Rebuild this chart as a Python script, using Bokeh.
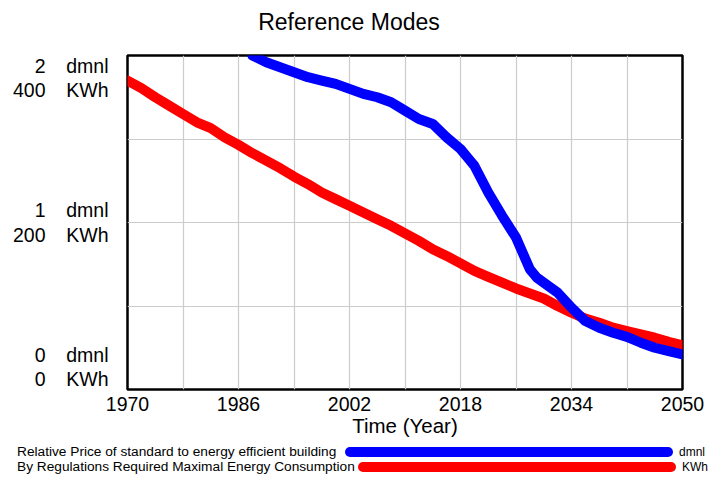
from bokeh.plotting import figure
from bokeh.models import Range1d, FixedTicker, LinearAxis, Div
from bokeh.layouts import column
from bokeh.embed import file_html
from bokeh.resources import INLINE

# ---------------- data ----------------
red_years = [1970, 1972, 1974, 1976, 1978, 1980, 1982, 1984, 1986, 1988, 1990,
             1992, 1994, 1996, 1998, 2000, 2002, 2004, 2006, 2008, 2010, 2012,
             2014, 2016, 2018, 2020, 2022, 2024, 2026, 2028, 2030, 2032, 2034,
             2036, 2038, 2040, 2042, 2044, 2046, 2048, 2050]
red_kwh = [370, 361, 350, 340, 330, 320, 313, 302, 293, 283, 274,
           265, 255, 246, 236, 228, 220, 212, 204, 196, 187, 178,
           168, 160, 151, 142, 135, 128, 121, 115, 109, 100, 92,
           85, 80, 74, 70, 66, 62, 57, 53]

blue_years = [1988, 1990, 1992, 1994, 1996, 1998, 2000, 2002, 2004, 2006, 2008,
              2010, 2012, 2014, 2016, 2018, 2019, 2020, 2022, 2024, 2026, 2028,
              2029, 2030, 2032, 2034, 2036, 2038, 2040, 2042, 2044, 2046, 2048, 2050]
blue_dmnl = [2.00, 1.96, 1.93, 1.90, 1.87, 1.85, 1.83, 1.80, 1.77, 1.75, 1.72,
             1.67, 1.62, 1.59, 1.51, 1.44, 1.39, 1.34, 1.18, 1.04, 0.91, 0.72,
             0.67, 0.64, 0.58, 0.49, 0.41, 0.37, 0.34, 0.315, 0.28, 0.25, 0.23, 0.21]

x_label_years = [1970, 1986, 2002, 2018, 2034, 2050]
x_grid_years = [1970, 1978, 1986, 1994, 2002, 2010, 2018, 2026, 2034, 2042, 2050]
kwh_grid = [0, 100, 200, 300, 400]
dmnl_tick_vals = [2, 1, 0]
kwh_tick_vals = [400, 200, 0]
chart_title = "Reference Modes"
series_names = ["Relative Price of standard to energy efficient building",
                "By Regulations Required Maximal Energy Consumption"]
series_units = ["dmnl", "KWh"]
series_colors = ["#0000ff", "#ff0000"]

FONT = "Liberation Sans"

# ---------------- title strip ----------------
title_div = Div(text=(f'<div style="position:relative;width:710px;height:40px;'
                      f'font-family:\'{FONT}\';color:black;">'
                      f'<div style="position:absolute;left:0;top:9px;width:698px;'
                      f'text-align:center;font-size:23px;line-height:27px;'
                      f'white-space:nowrap;">{chart_title}</div></div>'),
                width=710, height=40, margin=0)

# ---------------- main chart ----------------
p = figure(frame_width=555, frame_height=334,
           x_range=Range1d(1970, 2050), y_range=Range1d(0, 400),
           output_backend="svg", toolbar_location=None,
           min_border_left=127, min_border_right=28,
           min_border_top=15, min_border_bottom=50)
p.extra_y_ranges = {"dmnl": Range1d(0, 2)}

p.outline_line_color = "black"
p.outline_line_width = 2.5

p.xgrid.ticker = FixedTicker(ticks=x_grid_years)
p.ygrid.ticker = FixedTicker(ticks=kwh_grid)
for g in (p.xgrid, p.ygrid):
    g.grid_line_color = "#cccccc"
    g.grid_line_width = 1.2

xa = p.xaxis[0]
xa.ticker = FixedTicker(ticks=x_label_years)
xa.axis_line_color = None
xa.major_tick_line_color = None
xa.minor_tick_line_color = None
xa.major_tick_out = 0
xa.major_label_text_font = FONT
xa.major_label_text_font_size = "19.5px"
xa.major_label_text_color = "black"
xa.major_label_standoff = 7
xa.axis_label = "Time (Year)"
xa.axis_label_text_font = FONT
xa.axis_label_text_font_size = "20.5px"
xa.axis_label_text_font_style = "normal"
xa.axis_label_text_color = "black"
xa.axis_label_standoff = 0

# stacked y labels: top label hangs below the top, bottom label sits above the bottom
shift = 27
label_pos = [kwh_tick_vals[0] - shift, kwh_tick_vals[1], kwh_tick_vals[2] + shift]
unit_axis = p.yaxis[0]
num_axis = LinearAxis()
p.add_layout(num_axis, "left")
for ax in (unit_axis, num_axis):
    ax.ticker = FixedTicker(ticks=label_pos)
    ax.axis_line_color = None
    ax.major_tick_line_color = None
    ax.minor_tick_line_color = None
    ax.major_tick_out = 0
    ax.major_label_text_font = FONT
    ax.major_label_text_font_size = "19.5px"
    ax.major_label_text_color = "black"
    ax.major_label_text_line_height = 1.12
unit_axis.major_label_standoff = 19
num_axis.major_label_standoff = 18
unit_axis.major_label_overrides = {pos: f"{series_units[0]}\n{series_units[1]}" for pos in label_pos}
num_axis.major_label_overrides = {pos: f"{d}\n{k}" for pos, d, k in zip(label_pos, dmnl_tick_vals, kwh_tick_vals)}

p.line(red_years, red_kwh, line_color=series_colors[1], line_width=10,
       line_cap="round", line_join="round")
p.line(blue_years, blue_dmnl, y_range_name="dmnl", line_color=series_colors[0],
       line_width=10, line_cap="round", line_join="round")

# ---------------- legend strip: name, long bar, unit ----------------
row_top = [8, 23]           # bar tops inside the strip
bar_left = [345, 358]
bar_right = [673, 676]
parts = []
for i in range(2):
    parts.append(
        f'<div style="position:absolute;left:17px;top:{row_top[i] - 3}px;'
        f'font-size:13.7px;line-height:16px;white-space:nowrap;">{series_names[i]}</div>'
        f'<div style="position:absolute;left:{bar_left[i]}px;top:{row_top[i]}px;'
        f'width:{bar_right[i] - bar_left[i]}px;height:10px;border-radius:5px;'
        f'background:{series_colors[i]};"></div>'
        f'<div style="position:absolute;left:{bar_right[i] + 6}px;top:{row_top[i] - 2}px;'
        f'font-size:12px;line-height:14px;white-space:nowrap;">{series_units[i]}</div>'
    )
legend_html = (f'<div style="position:relative;width:710px;height:38px;'
               f'font-family:\'{FONT}\';color:black;">' + "".join(parts) + '</div>')
legend = Div(text=legend_html, width=710, height=38, margin=0)

layout = column(title_div, p, legend, spacing=0)
open("out.html", "w").write(file_html(layout, INLINE))
